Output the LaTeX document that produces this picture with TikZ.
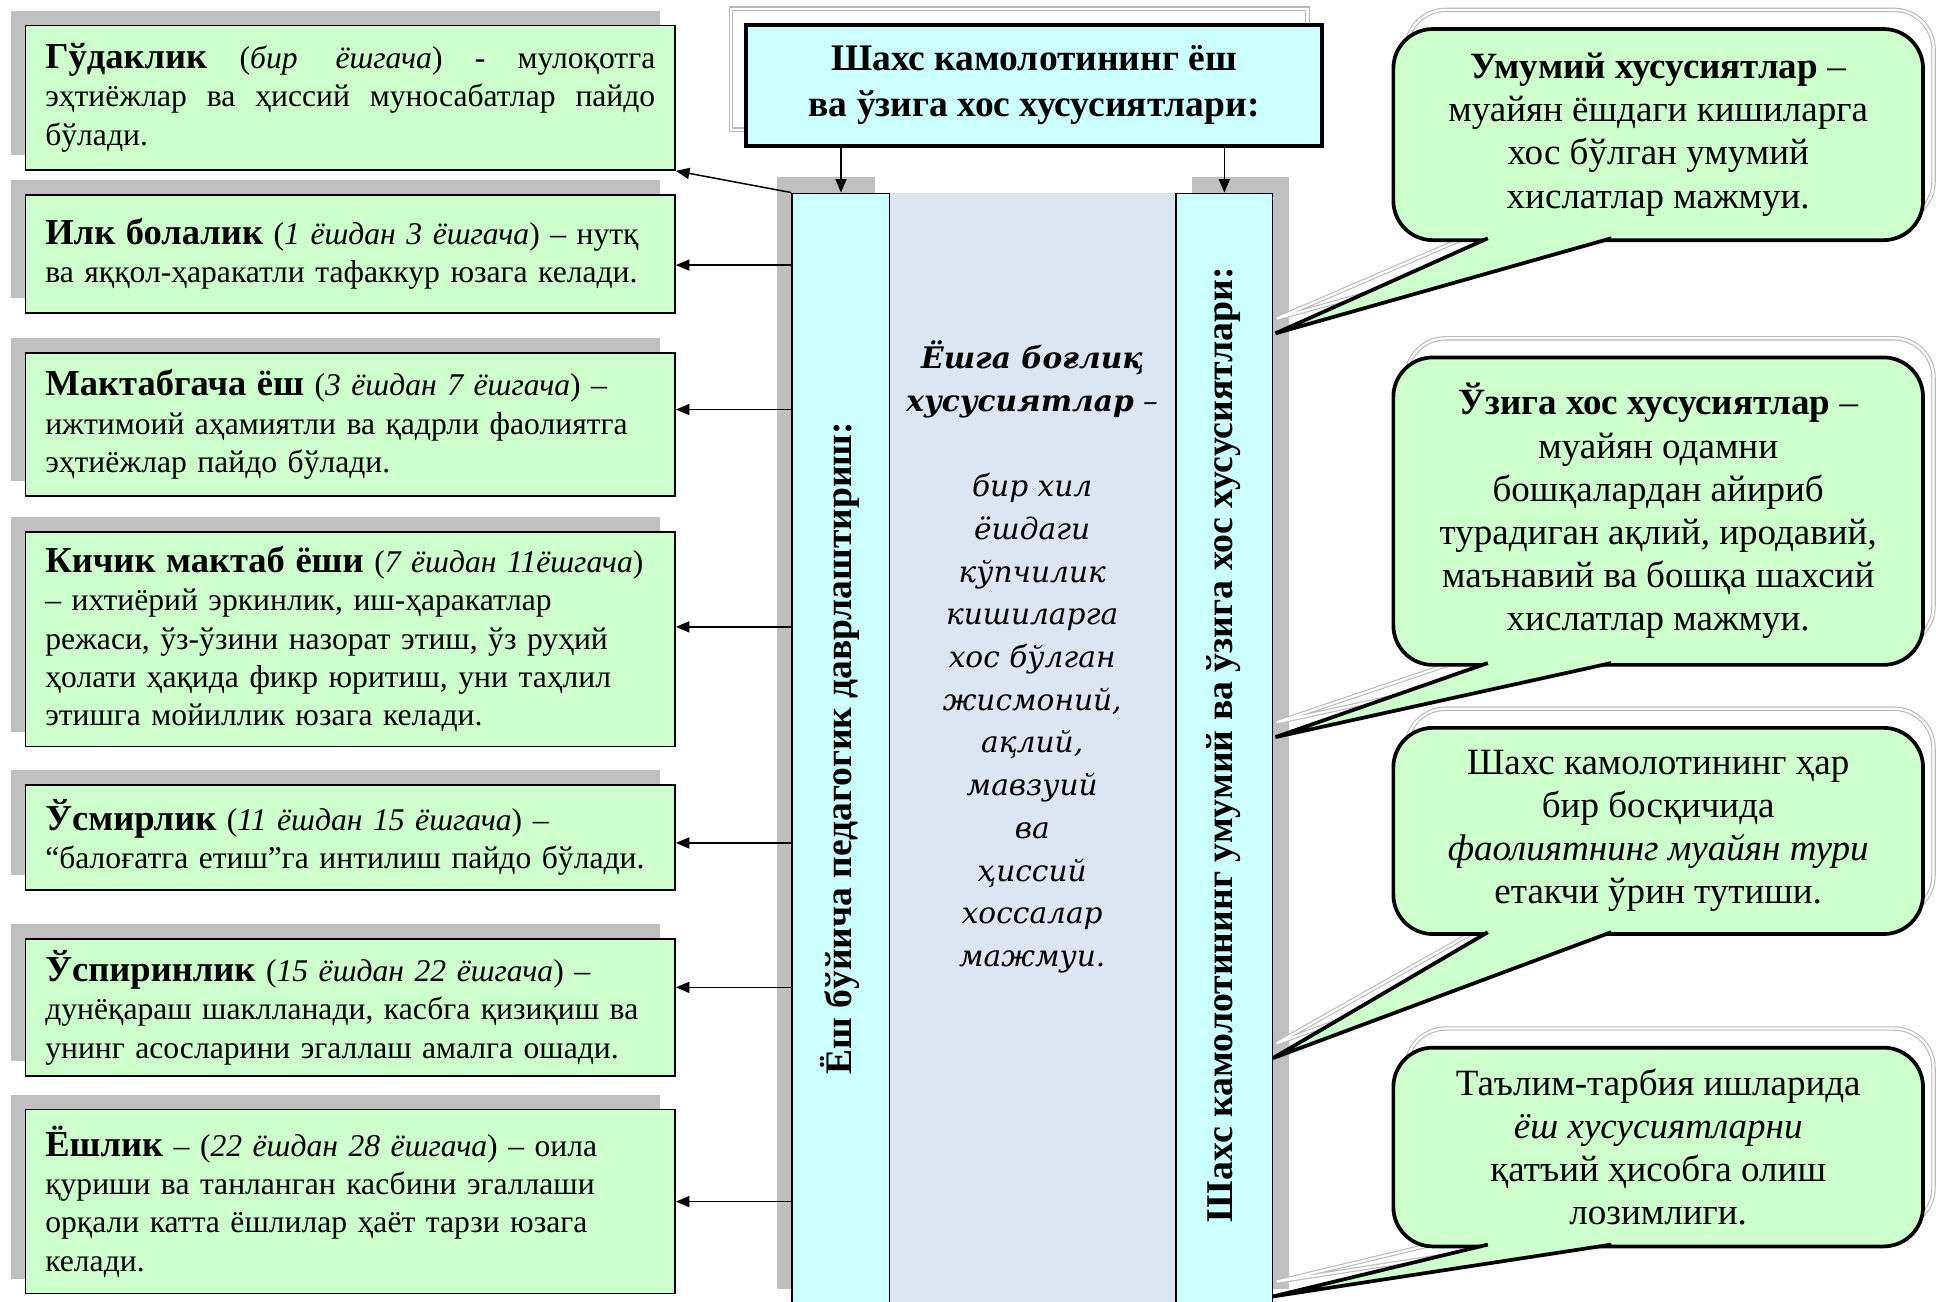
\documentclass[tikz,border=0pt]{standalone}
\usepackage{fontspec}
\setmainfont{Liberation Serif}
\newfontfamily\midfont{DejaVu Serif}
\usetikzlibrary{arrows.meta,shadows}
\definecolor{boxgreen}{RGB}{204,255,204}
\definecolor{boxcyan}{RGB}{204,255,255}
\definecolor{midblue}{RGB}{220,230,242}
\definecolor{shadowgray}{RGB}{192,192,192}
\definecolor{outlinegray}{RGB}{185,185,185}
\newcommand\agehead[1]{{\fontsize{14.8}{15.5}\selectfont\bfseries #1}}
\newcommand\speechbubble[6]{%
  \draw[bubshadow, fill=white, rounded corners=16pt] (1139,#2-14) rectangle (1566,#3-14);
  \draw[bubshadow] (1218,#3-14) -- (1034,#5-12) -- (1318,#3-14);
  \node[bubble, minimum height={(#3-#2)/2}] (#1) at (1127,#2) {#6};
  \fill[boxgreen] (1205,#3-4) -- (1205,#3) -- (#4,#5) -- (1305,#3) -- (1305,#3-4) -- cycle;
  \draw[bubline] (1205,#3) -- (#4,#5) -- (1305,#3);
}
\begin{document}
\begin{tikzpicture}[x=0.5pt,y=-0.5pt,
  agebox/.style={draw=black, line width=0.7pt, fill=boxgreen, anchor=north west,
    minimum width=263pt, text width=247pt, inner xsep=8pt, inner ysep=0pt, align=left,
    font=\fontsize{12.8}{15.5}\selectfont,
    drop shadow={shadow xshift=-6pt, shadow yshift=6pt, fill=shadowgray, opacity=1}},
  colbox/.style={draw=black, line width=0.6pt, fill=boxcyan, anchor=north west,
    minimum height=450pt, inner sep=0pt},
  arr/.style={line width=0.6pt, -{Triangle[length=5.5pt,width=4.5pt]}},
  bubble/.style={draw=black, line width=1.5pt, fill=boxgreen, rounded corners=16pt,
    anchor=north west, minimum width=214.5pt, align=center,
    font=\fontsize{15}{17.5}\selectfont},
  bubline/.style={draw=black, line width=1.5pt, line join=miter},
  bubshadow/.style={draw=outlinegray, line width=0.45pt, double=white, double distance=0.9pt},
  titlebox/.style={draw=black, line width=1.6pt, fill=boxcyan, minimum width=233.5pt,
    minimum height=49pt, align=center, font=\bfseries\fontsize{15.2}{18.5}\selectfont},
  vtext/.style={rotate=90, font=\bfseries\fontsize{15.2}{18}\selectfont},
  midtext/.style={align=center, font=\midfont\itshape\fontsize{12}{17.3}\selectfont}
]
\useasboundingbox (0,0) rectangle (1568,1054);

% title
\draw[bubshadow, fill=white] (592,7) rectangle (1059,105);
\node[titlebox] (title) at (837.5,69) {Шахс камолотининг ёш\\ва ўзига хос хусусиятлари:};

% centre band and columns
\node[fill=midblue, anchor=north west, minimum width=116pt, minimum height=450pt, inner sep=0pt] (mid) at (720,156) {};
\node[colbox, minimum width=39.5pt,
  drop shadow={shadow xshift=-6pt, shadow yshift=6.5pt, fill=shadowgray, opacity=1}] (lcol) at (641,156) {};
\node[colbox, minimum width=39pt,
  drop shadow={shadow xshift=6.5pt, shadow yshift=6.5pt, fill=shadowgray, opacity=1}] (rcol) at (952,156) {};

\node[vtext] (ltxt) at (680,606) {Ёш бўйича педагогик даврлаштириш:};
\node[vtext, font=\bfseries\fontsize{15.3}{18}\selectfont] (rtxt) at (991,603) {Шахс камолотининг умумий ва ўзига хос хусусиятлари:};

\node[midtext] (midtxt) at (836,532) {\textbf{Ёшга боғлиқ}\\\textbf{хусусиятлар} –\\[17.3pt]бир хил\\ёшдаги\\кўпчилик\\кишиларга\\хос бўлган\\жисмоний,\\ақлий,\\мавзуий\\ва\\ҳиссий\\хоссалар\\мажмуи.};

\draw[arr] (title.south -| lcol.north) -- (lcol.north);
\draw[arr] (title.south -| rcol.north) -- (rcol.north);

% age boxes
\node[agebox, minimum height=58.5pt] (b1) at (20,20)
 {\makebox[247pt][l]{\agehead{Гўдаклик}\hfill(\textit{бир\hskip 1.2em ёшгача})\hfill-\hfill мулоқотга}\\
  \makebox[247pt][l]{эҳтиёжлар\hfill ва\hfill ҳиссий\hfill муносабатлар\hfill пайдо}\\бўлади.};
\node[agebox, minimum height=48pt] (b2) at (20,157)
 {\agehead{Илк болалик} (\textit{1 ёшдан 3 ёшгача}) – нутқ\\ва яққол-ҳаракатли тафаккур юзага келади.};
\node[agebox, minimum height=58pt] (b3) at (20,285)
 {\agehead{Мактабгача ёш} (\textit{3 ёшдан 7 ёшгача}) –\\ижтимоий аҳамиятли ва қадрли фаолиятга\\эҳтиёжлар пайдо бўлади.};
\node[agebox, minimum height=87pt] (b4) at (20,430)
 {\agehead{Кичик мактаб ёши} (\textit{7 ёшдан 11ёшгача})\\– ихтиёрий эркинлик, иш-ҳаракатлар\\режаси, ўз-ўзини назорат этиш, ўз руҳий\\ҳолати ҳақида фикр юритиш, уни таҳлил\\этишга мойиллик юзага келади.};
\node[agebox, minimum height=42.5pt] (b5) at (20,635)
 {\agehead{Ўсмирлик} (\textit{11 ёшдан 15 ёшгача}) –\\“балоғатга етиш”га интилиш пайдо бўлади.};
\node[agebox, minimum height=55.5pt] (b6) at (20,760)
 {\agehead{Ўспиринлик} (\textit{15 ёшдан 22 ёшгача}) –\\дунёқараш шаклланади, касбга қизиқиш ва\\унинг асосларини эгаллаш амалга ошади.};
\node[agebox, minimum height=74.5pt] (b7) at (20,898)
 {\agehead{Ёшлик} – (\textit{22 ёшдан 28 ёшгача}) – оила\\қуриши ва танланган касбини эгаллаши\\орқали катта ёшлилар ҳаёт тарзи юзага\\келади.};

\draw[arr] (lcol.north west) -- (b1.south east);
\coordinate (a2) at ([yshift=-4.5pt]b2.east);
\coordinate (a3) at ([yshift=6pt]b3.east);
\coordinate (a4) at ([yshift=5pt]b4.east);
\coordinate (a5) at ([yshift=-2.25pt]b5.east);
\coordinate (a6) at ([yshift=8.25pt]b6.east);
\coordinate (a7) at (b7.east);
\foreach \p in {a2,a3,a4,a5,a6,a7} \draw[arr] (lcol.west |- \p) -- (\p);

% speech bubbles
\speechbubble{c1}{22}{193}{1033}{270}{\textbf{Умумий хусусиятлар} –\\муайян ёшдаги кишиларга\\хос бўлган умумий\\хислатлар мажмуи.}
\speechbubble{c2}{288}{537}{1033}{597}{\textbf{Ўзига хос хусусиятлар} –\\муайян одамни\\бошқалардан айириб\\турадиган ақлий, иродавий,\\маънавий ва бошқа шахсий\\хислатлар мажмуи.}
\speechbubble{c3}{588}{755}{1031}{857}{Шахс камолотининг ҳар\\бир босқичида\\\textit{фаолиятнинг муайян тури}\\етакчи ўрин тутиши.}
\speechbubble{c4}{847}{1008}{1031}{1050}{Таълим-тарбия ишларида\\\textit{ёш хусусиятларни}\\қатъий ҳисобга олиш\\лозимлиги.}
\end{tikzpicture}
\end{document}
